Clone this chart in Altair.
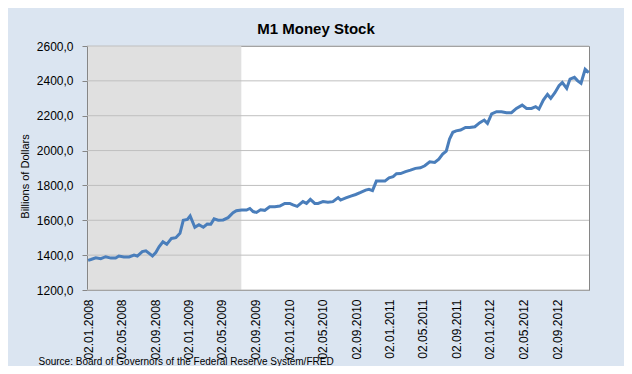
import altair as alt
import pandas as pd

# ---- data ----
dates = [
    "2008-01-02", "2008-01-12", "2008-01-30", "2008-02-17", "2008-03-06", "2008-03-25",
    "2008-04-11", "2008-04-23", "2008-05-11", "2008-05-30", "2008-06-17", "2008-06-29",
    "2008-07-17", "2008-07-30", "2008-08-11", "2008-08-23", "2008-09-04", "2008-09-16",
    "2008-09-30", "2008-10-14", "2008-10-31", "2008-11-16", "2008-12-01", "2008-12-13",
    "2008-12-28", "2009-01-07", "2009-01-24", "2009-02-08", "2009-02-24", "2009-03-10",
    "2009-03-23", "2009-04-04", "2009-04-19", "2009-05-07", "2009-05-25", "2009-06-12",
    "2009-06-24", "2009-07-13", "2009-07-31", "2009-08-12", "2009-08-24", "2009-09-05",
    "2009-09-20", "2009-10-05", "2009-10-23", "2009-11-11", "2009-11-29", "2009-12-17",
    "2010-01-04", "2010-01-16", "2010-01-31", "2010-02-21", "2010-03-06", "2010-03-20",
    "2010-04-05", "2010-04-17", "2010-05-05", "2010-05-23", "2010-06-10", "2010-06-29",
    "2010-07-08", "2010-07-27", "2010-08-14", "2010-09-01", "2010-09-19", "2010-10-07",
    "2010-10-19", "2010-11-01", "2010-11-15", "2010-12-01", "2010-12-16", "2010-12-31",
    "2011-01-15", "2011-01-27", "2011-02-11", "2011-03-01", "2011-03-19", "2011-04-06",
    "2011-04-24", "2011-05-10", "2011-05-28", "2011-06-15", "2011-06-30", "2011-07-14",
    "2011-07-27", "2011-08-08", "2011-08-20", "2011-09-01", "2011-09-17", "2011-10-05",
    "2011-10-20", "2011-11-08", "2011-11-26", "2011-12-12", "2011-12-24", "2012-01-08",
    "2012-01-26", "2012-02-13", "2012-03-02", "2012-03-20", "2012-04-07", "2012-04-28",
    "2012-05-14", "2012-06-01", "2012-06-16", "2012-06-28", "2012-07-14", "2012-07-29",
    "2012-08-10", "2012-08-25", "2012-09-09", "2012-09-21", "2012-10-07", "2012-10-19",
    "2012-11-04", "2012-11-16", "2012-11-28", "2012-12-13", "2012-12-26",
]
values = [
    1370, 1375, 1385, 1380, 1391, 1383,
    1384, 1395, 1390, 1390, 1400, 1395,
    1420, 1425, 1410, 1395, 1415, 1448,
    1477, 1462, 1496, 1500, 1525, 1600,
    1605, 1625, 1560, 1575, 1560, 1578,
    1577, 1608, 1600, 1602, 1615, 1643,
    1655, 1659, 1659, 1668, 1650, 1645,
    1660, 1657, 1678, 1678, 1682, 1697,
    1697, 1688, 1680, 1707, 1697, 1720,
    1697, 1697, 1707, 1703, 1707, 1730,
    1716, 1728, 1739, 1748, 1760, 1773,
    1778, 1770, 1825, 1825, 1825, 1844,
    1850, 1867, 1868, 1879, 1888, 1898,
    1901, 1913, 1936, 1932, 1951, 1980,
    1997, 2066, 2105, 2113, 2118, 2133,
    2133, 2137, 2160, 2175, 2156, 2210,
    2223, 2223, 2217, 2217, 2242, 2261,
    2242, 2242, 2252, 2238, 2290, 2322,
    2300, 2332, 2372, 2390, 2357, 2410,
    2420, 2400, 2386, 2466, 2447,
]
recession_start = ["2008-01-02"]
recession_end = ["2009-07-12"]
y_ticks = [1200, 1400, 1600, 1800, 2000, 2200, 2400, 2600]
x_tick_dates = [
    "2008-01-02", "2008-05-02", "2008-09-02", "2009-01-02", "2009-05-02",
    "2009-09-02", "2010-01-02", "2010-05-02", "2010-09-02", "2011-01-02",
    "2011-05-02", "2011-09-02", "2012-01-02", "2012-05-02", "2012-09-02",
]
x_domain = ["2007-12-29", "2012-12-27"]
title_text = "M1 Money Stock"
y_title = "Billions of Dollars"
source_text = "Source: Board of Governors of the Federal Reserve System/FRED"

FONT = "Liberation Sans"


def dt(s):
    y, m, d = map(int, s.split("-"))
    return alt.DateTime(year=y, month=m, date=d, utc=True)


df = pd.DataFrame({"date": dates, "value": values})
rec = pd.DataFrame({"start": recession_start, "end": recession_end})
grid = pd.DataFrame({"y": y_ticks})

xscale = alt.Scale(type="utc", domain=[dt(s) for s in x_domain])
yscale = alt.Scale(domain=[y_ticks[0], y_ticks[-1]], nice=False, zero=False)

x_axis = alt.Axis(
    values=[dt(s) for s in x_tick_dates],
    labelExpr="utcFormat(datum.value, '%d.%m.%Y')",
    labelAngle=270,
    labelFont=FONT,
    labelFontSize=12,
    labelColor="#000000",
    labelPadding=9,
    labelFlush=False,
    labelOverlap=False,
    ticks=False,
    domain=False,
    grid=False,
    title=source_text,
    titleFont=FONT,
    titleFontSize=10,
    titleFontWeight="normal",
    titleColor="#000000",
    titleAnchor="start",
    titleAlign="left",
    titleBaseline="alphabetic",
    titleX=-49,
    titleY=74,
)
y_axis = alt.Axis(
    values=y_ticks,
    labelExpr="replace(format(datum.value, '.1f'), '.', ',')",
    labelFont=FONT,
    labelFontSize=12,
    labelColor="#000000",
    labelPadding=9,
    tickSize=5,
    tickColor="#868686",
    domainColor="#868686",
    grid=False,
    title=y_title,
    titleFont=FONT,
    titleFontSize=11,
    titleFontWeight="normal",
    titleColor="#000000",
    titleAngle=270,
    titleAlign="center",
    titleBaseline="middle",
    titleX=-62,
    titleY=130,
)

shade = alt.Chart(rec).mark_rect(color="#E0E0E0").encode(
    x=alt.X("start:T", scale=xscale, axis=x_axis),
    x2="end:T",
)
rules = alt.Chart(grid).mark_rule(color="#BFBFBF", strokeWidth=1).encode(
    y=alt.Y("y:Q", scale=yscale, axis=y_axis),
)
line = alt.Chart(df).mark_line(color="#4A7EBB", strokeWidth=3).encode(
    x=alt.X("date:T", scale=xscale, axis=x_axis),
    y=alt.Y("value:Q", scale=yscale, axis=y_axis),
)

chart = (
    alt.layer(shade, rules, line)
    .properties(
        width=502,
        height=244,
        autosize=alt.AutoSizeParams(type="none"),
        padding={"left": 79, "top": 38, "right": 35, "bottom": 76},
        background="#DBE5F1",
        title=alt.TitleParams(
            title_text,
            font=FONT,
            fontSize=15,
            fontWeight="bold",
            color="#000000",
            anchor="middle",
            dx=-22,
            dy=26,
            offset=17,
            baseline="alphabetic",
        ),
    )
    .configure_view(fill="#FFFFFF", stroke="#868686", strokeWidth=1)
)

chart.save("out.html", embed_options={"renderer": "svg", "actions": False})
